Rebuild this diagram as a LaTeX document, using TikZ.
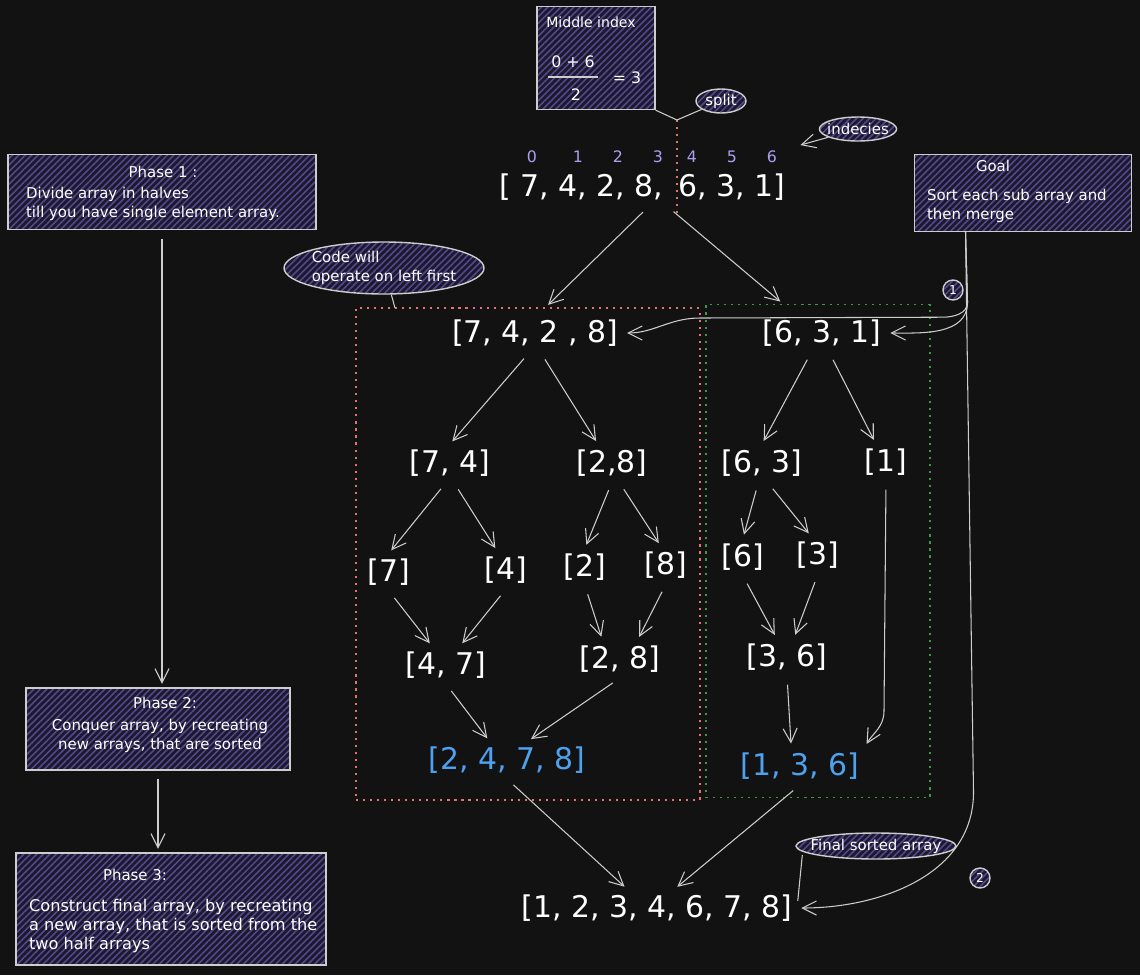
\documentclass[tikz,border=0pt]{standalone}
\usepackage{fontspec}
\setmainfont{DejaVu Sans}
\usepackage{tikz}
\usetikzlibrary{arrows.meta, shapes.geometric, positioning, patterns.meta}
\usepackage{xcolor}
\definecolor{boarddark}{RGB}{18, 18, 18}
\definecolor{chalkgray}{RGB}{205, 205, 205}
\definecolor{hatchviolet}{RGB}{28, 25, 45}
\definecolor{hatchline}{RGB}{82, 72, 140}
\definecolor{indexlilac}{RGB}{170, 160, 240}
\definecolor{sortedblue}{RGB}{78, 161, 239}
\definecolor{leftred}{RGB}{228, 115, 107}
\definecolor{rightgreen}{RGB}{63, 154, 72}

\tikzset{
    notebox/.style={draw=chalkgray, line width=0.8pt, preaction={fill=hatchviolet}, pattern={Lines[angle=45, distance=2.6pt, line width=0.9pt]}, pattern color=hatchline, inner sep=0pt},
    bubble/.style={notebox, ellipse, text=white, font=\fontsize{8.5}{10.5}\selectfont},
    note/.style={text=white, font=\fontsize{8.5}{11}\selectfont, inner sep=1pt},
    arr/.style={text=white, font=\fontsize{17}{20}\selectfont, inner sep=3pt},
    sortedarr/.style={arr, text=sortedblue},
    idxnum/.style={text=indexlilac, font=\fontsize{9}{11}\selectfont, inner sep=1pt},
    halfbox/.style={line width=0.8pt, dash pattern=on 1.2pt off 2.8pt},
    flow/.style={draw=chalkgray, line width=0.6pt, -{Straight Barb[length=8pt, width=8pt]}, shorten <=5pt, shorten >=2pt},
    tie/.style={draw=chalkgray, line width=0.6pt},
}

\begin{document}
\begin{tikzpicture}[x=0.02cm, y=-0.02cm]
    \useasboundingbox (0,0) rectangle (1140,975);
    \fill[boarddark] (0,0) rectangle (1140,975);

    % notes on the left
    \node[notebox, minimum width=6.16cm, minimum height=1.5cm] (phase1) at (162,192) {};
    \node[note] (phase1ttl) at (163,172) {Phase 1 :};
    \node[note, anchor=west, align=left] (phase1txt) at (24,204) {Divide array in halves\\till you have single element array.};
    \node[notebox, minimum width=5.28cm, minimum height=1.64cm] (phase2) at (158,729) {};
    \node[note] (phase2ttl) at (165,703) {Phase 2:};
    \node[note, align=center] (phase2txt) at (160,736) {Conquer array, by recreating\\new arrays, that are sorted};
    \node[notebox, minimum width=6.2cm, minimum height=2.24cm] (phase3) at (171,909) {};
    \node[note] (phase3ttl) at (135,875) {Phase 3:};
    \node[note, anchor=west, align=left, font=\fontsize{9.2}{11}\selectfont] (phase3txt) at (27,926) {Construct final array, by recreating\\a new array, that is sorted from the\\two half arrays};
    \draw[flow] (phase1.south) -- (phase1.south |- phase2.north);
    \draw[flow] (phase2.south) -- (phase2.south |- phase3.north);

    % middle index and goal
    \node[notebox, minimum width=2.36cm, minimum height=2.06cm] (midbox) at (596,58) {};
    \node[note, font=\fontsize{8}{10}\selectfont] (midttl) at (591,22) {Middle index};
    \node[note, font=\fontsize{9}{11}\selectfont] (midnum) at (573,62) {0 + 6};
    \node[note, font=\fontsize{9}{11}\selectfont] (midden) at (576,95) {2};
    \node[note, font=\fontsize{9}{11}\selectfont] (mideq) at (627,78) {= 3};
    \draw[tie] (548,77) -- (598,77);
    \node[notebox, minimum width=4.34cm, minimum height=1.54cm] (goal) at (1023,193) {};
    \node[note] (goalttl) at (993,166) {Goal};
    \node[note, anchor=west, align=left] (goaltxt) at (925,206) {Sort each sub array and\\then merge};

    % bubbles
    \node[bubble, minimum width=1cm, minimum height=0.48cm, inner xsep=0pt, inner ysep=0.5pt] (split) at (721,101) {split};
    \node[bubble, minimum width=1.28cm, minimum height=0.48cm, inner xsep=-2pt, inner ysep=0.5pt] (idxnote) at (858,129) {indecies};
    \node[bubble, minimum width=4cm, minimum height=1.04cm, inner xsep=-6pt, inner ysep=0.5pt, align=left] (codenote) at (384,268) {Code will\\operate on left first};
    \node[bubble, minimum width=3.2cm, minimum height=0.52cm, inner xsep=-8pt, inner ysep=1pt] (fsanote) at (876,846) {Final sorted array};
    \node[bubble, circle, minimum size=0.4cm, font=\fontsize{7}{8}\selectfont] (stepone) at (953,290) {1};
    \node[bubble, circle, minimum size=0.4cm, font=\fontsize{7}{8}\selectfont] (steptwo) at (980,878) {2};

    % full array with indices
    \node[idxnum] (i0) at (532,157) {0};
    \node[idxnum] (i1) at (578,157) {1};
    \node[idxnum] (i2) at (618,157) {2};
    \node[idxnum] (i3) at (658,157) {3};
    \node[idxnum] (i4) at (692,157) {4};
    \node[idxnum] (i5) at (732,157) {5};
    \node[idxnum] (i6) at (772,157) {6};
    \node[arr, anchor=west] (full) at (494,187) {[ 7, 4, 2, 8,\enspace 6, 3, 1]};
    \coordinate (splittop) at (677,120);
    \coordinate (splitbot) at (677,215);
    \draw[leftred, halfbox] (splittop) -- (splitbot);
    \draw[tie] (midbox.south east) -- (splittop);
    \draw[tie] (split) -- (splittop);
    \coordinate (idxtip) at (797,146);
    \draw[flow, shorten <=0pt] (idxnote) -- (idxtip);

    % halves
    \node[draw=leftred, halfbox, minimum width=6.88cm, minimum height=9.84cm] (lbox) at (528,554) {};
    \node[draw=rightgreen, halfbox, minimum width=4.48cm, minimum height=9.86cm] (rbox) at (818,551) {};
    \coordinate (codetip) at (395,308);
    \draw[tie] (codenote) -- (codetip);
    \draw[flow] ([xshift=4pt]full.south) -- ([xshift=0.35cm]lbox.north);
    \draw[flow] ([xshift=14pt]full.south) -- ([xshift=-0.7cm]rbox.north);

    \node[arr] (lroot) at (535,333) {[7, 4, 2 , 8]};
    \node[arr] (rroot) at (822,333) {[6, 3, 1]};
    \node[arr] (l74) at (450,463) {[7, 4]};
    \node[arr] (l28) at (612,463) {[2,8]};
    \node[arr] (r63) at (762,463) {[6, 3]};
    \node[arr] (r1) at (886,462) {[1]};
    \node[arr] (l7) at (389,572) {[7]};
    \node[arr] (l4) at (506,570) {[4]};
    \node[arr] (l2) at (585,567) {[2]};
    \node[arr] (l8) at (666,565) {[8]};
    \node[arr] (r6) at (743,557) {[6]};
    \node[arr] (r3) at (818,555) {[3]};
    \node[arr] (l47) at (446,665) {[4, 7]};
    \node[arr] (l28s) at (620,659) {[2, 8]};
    \node[arr] (r36) at (787,657) {[3, 6]};
    \node[sortedarr] (lsorted) at (507,760) {[2, 4, 7, 8]};
    \node[sortedarr] (rsorted) at (800,766) {[1, 3, 6]};
    \node[arr] (final) at (657,908) {[1, 2, 3, 4, 6, 7, 8]};

    % divide
    \draw[flow] ([xshift=-3pt]lroot.south) -- (l74.north);
    \draw[flow] ([xshift=3pt]lroot.south) -- ([xshift=-8pt]l28.north);
    \draw[flow] ([xshift=-6pt]rroot.south) -- (r63.north);
    \draw[flow] ([xshift=4pt]rroot.south) -- ([xshift=-6pt]r1.north);
    \draw[flow] ([xshift=-2pt]l74.south) -- (l7.north);
    \draw[flow] ([xshift=2pt]l74.south) -- ([xshift=-5pt]l4.north);
    \draw[flow] (l28.south) -- (l2.north);
    \draw[flow] ([xshift=4pt]l28.south) -- ([xshift=-3pt]l8.north);
    \draw[flow] ([xshift=-2pt]r63.south) -- (r6.north);
    \draw[flow] ([xshift=3pt]r63.south) -- ([xshift=-4pt]r3.north);

    % conquer
    \draw[flow] (l7.south) -- ([xshift=-8pt]l47.north);
    \draw[flow] (l4.south) -- ([xshift=8pt]l47.north);
    \draw[flow] (l2.south) -- ([xshift=-10pt]l28s.north);
    \draw[flow] (l8.south) -- ([xshift=10pt]l28s.north);
    \draw[flow] (r6.south) -- ([xshift=-6pt]r36.north);
    \draw[flow] (r3.south) -- ([xshift=4pt]r36.north);
    \draw[flow] (r36.south) -- ([xshift=-5pt]rsorted.north);
    \draw[flow] (r1.south) -- ++(-2,230) to[out=-90, in=60] (rsorted.north east);
    \draw[flow] (l47.south) -- ([xshift=-10pt]lsorted.north);
    \draw[flow] (l28s.south) -- ([xshift=12pt]lsorted.north);
    \draw[flow] (lsorted.south) -- ([xshift=-17pt]final.north);
    \draw[flow] (rsorted.south) -- ([xshift=10pt]final.north);
    \draw[tie] ([shift={(7,9)}]fsanote.west) -- ([yshift=4pt]final.east);

    % goal arrows
    \coordinate (goalfoot) at ([xshift=-1.15cm]goal.south);
    \draw[flow, shorten <=0pt] (goalfoot) -- ++(2,70) to[out=-90, in=0] ++(-25,15) -- (700,318) to[out=180, in=0] (lroot.east);
    \draw[flow, shorten <=0pt] (goalfoot) -- ++(2,70) to[out=-90, in=0] (rroot.east);
    \draw[flow, shorten <=0pt] (goalfoot) -- ++(8,560) to[out=-90, in=0] (final.east);
\end{tikzpicture}
\end{document}
